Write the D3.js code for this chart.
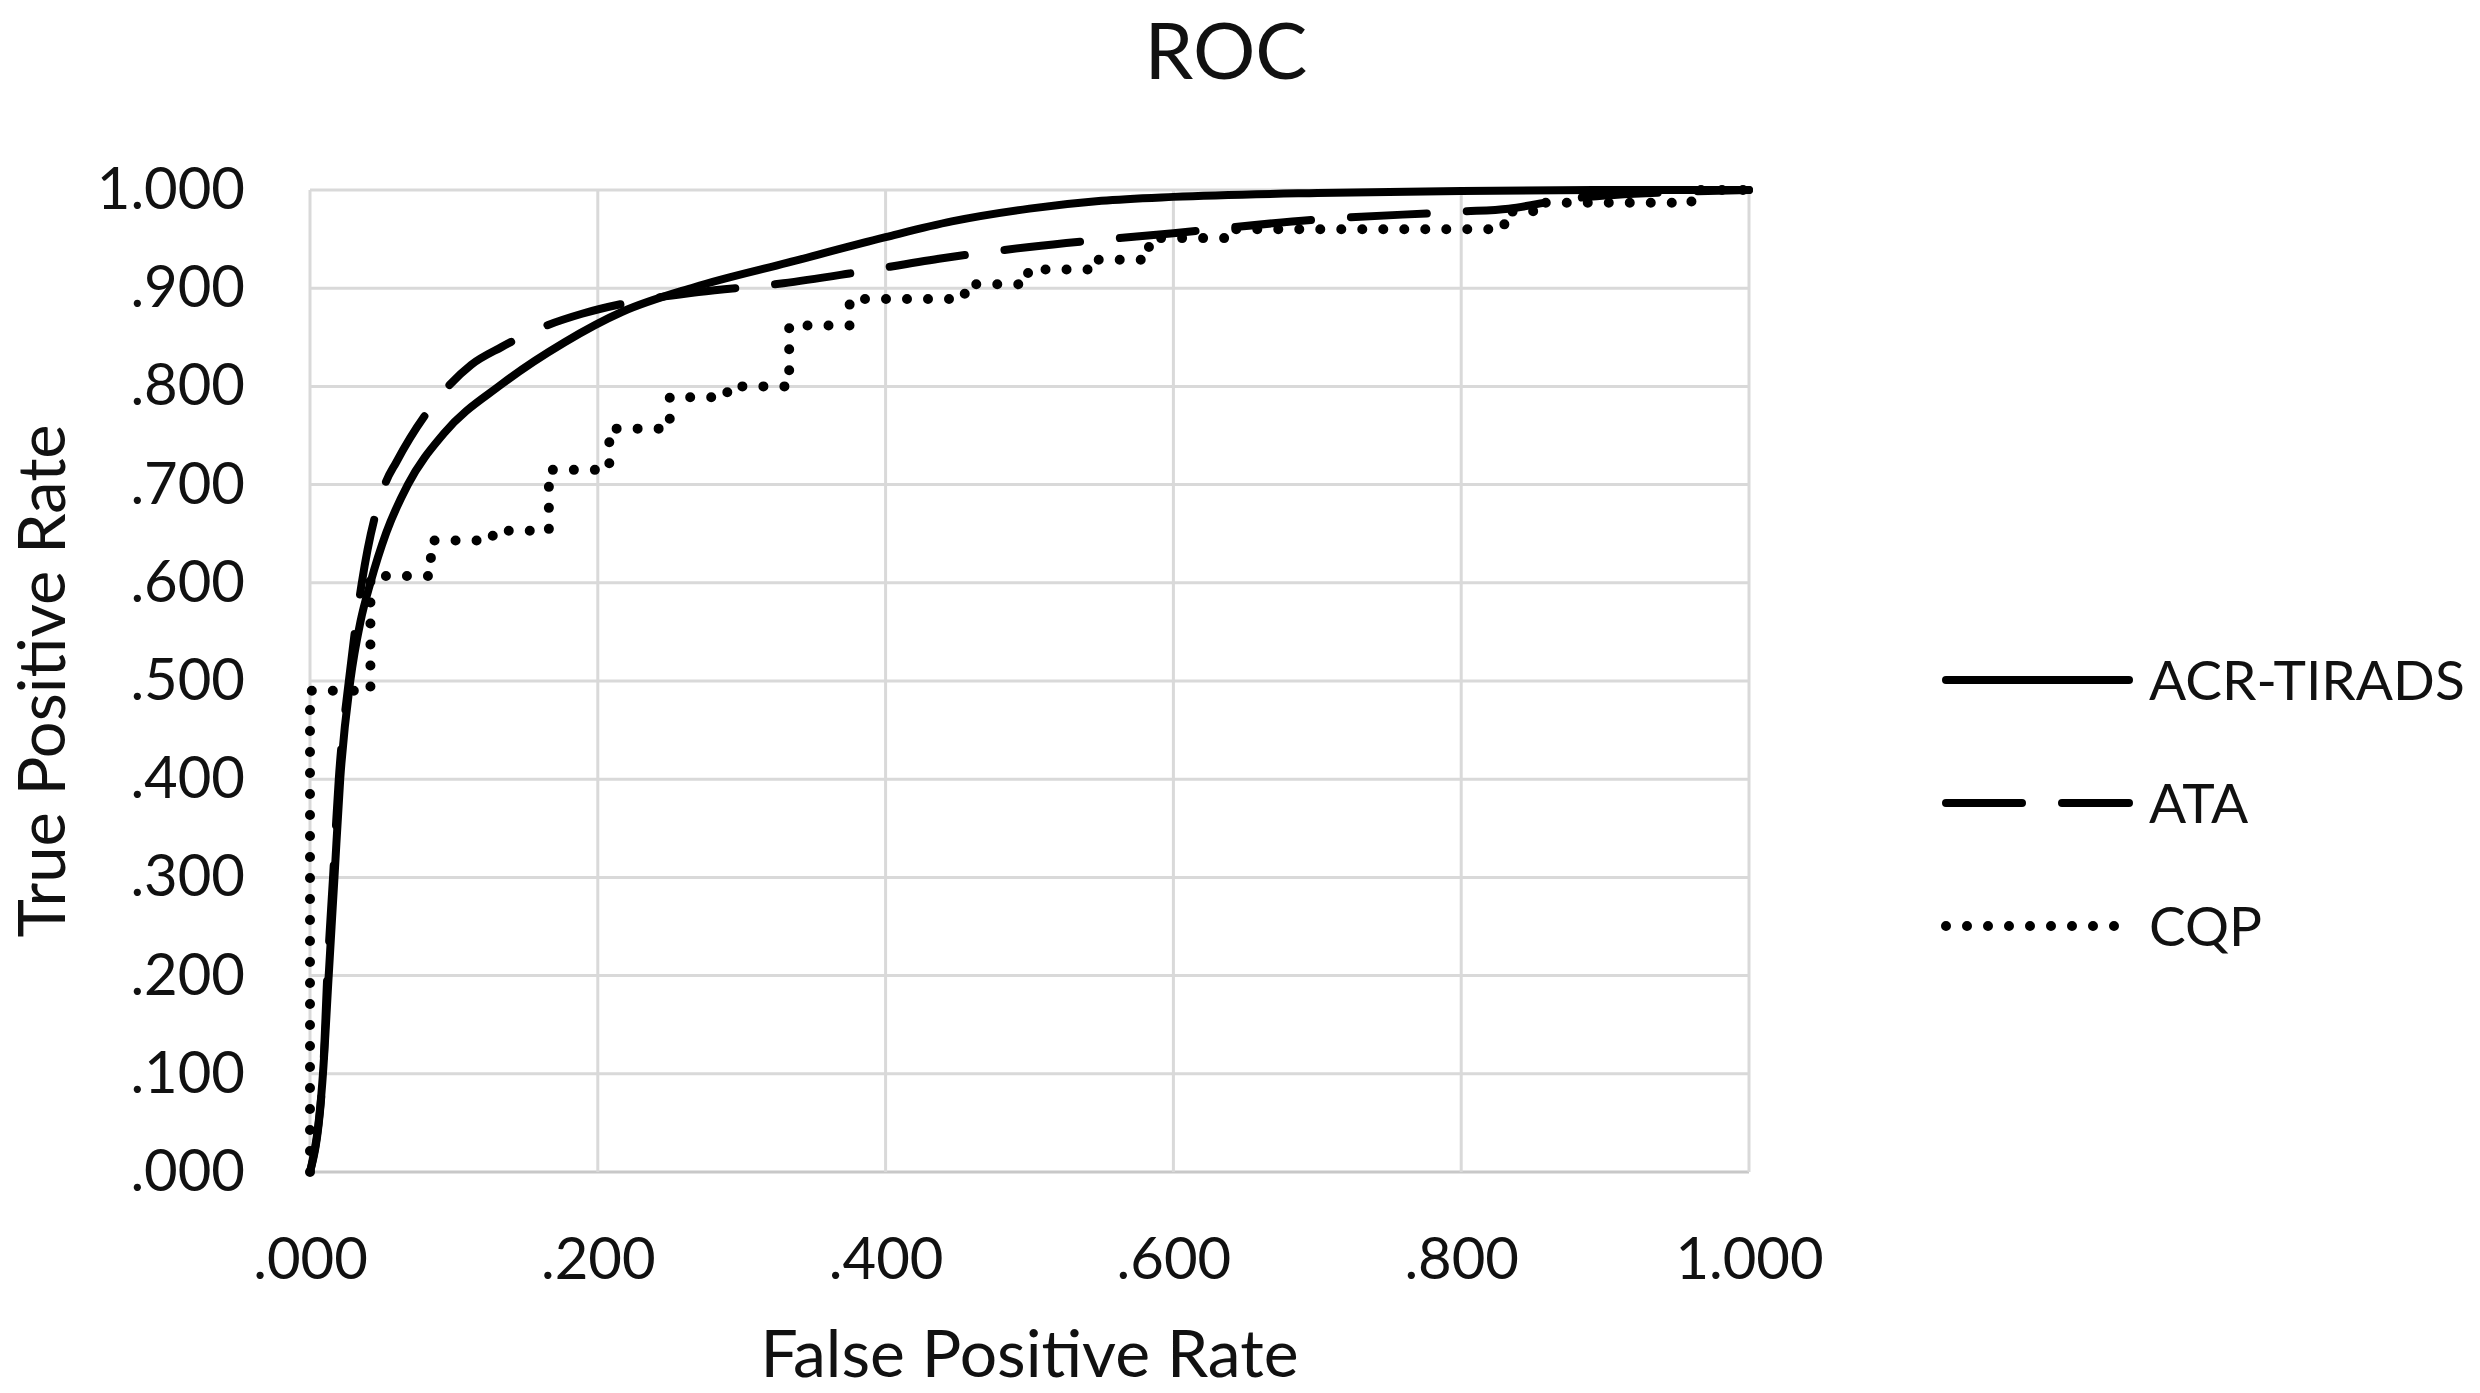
<!DOCTYPE html>
<html lang="en">
<head>
<meta charset="UTF-8">
<title>ROC</title>
<script src="https://d3js.org/d3.v7.min.js"></script>
<style>
  html, body { margin: 0; padding: 0; background: #fff; }
  svg text { font-family: Lato, "Open Sans", sans-serif; fill: #111; }
</style>
</head>
<body>
<svg id="chart" width="2480" height="1393"></svg>
<script>
// ROC curves (false positive rate / true positive rate)
var acrFpr = [0, 0.009, 0.013, 0.017, 0.021, 0.028, 0.035, 0.042, 0.053, 0.068, 0.093, 0.133, 0.177, 0.217, 0.267, 0.332, 0.40, 0.446, 0.5, 0.55, 0.6, 0.7, 0.8, 0.9, 1.0];
var acrTpr = [0, 0.10, 0.20, 0.30, 0.40, 0.50, 0.56, 0.60, 0.651, 0.70, 0.752, 0.802, 0.845, 0.876, 0.901, 0.926, 0.952, 0.968, 0.981, 0.989, 0.993, 0.997, 0.999, 1.0, 1.0];

var ataFpr = [0, 0.009, 0.012, 0.016, 0.020, 0.027, 0.036, 0.052, 0.06, 0.093, 0.112, 0.133, 0.161, 0.189, 0.22, 0.27, 0.329, 0.375, 0.437, 0.5, 0.6, 0.7, 0.8, 0.833, 0.87, 0.95, 1.0];
var ataTpr = [0, 0.10, 0.20, 0.30, 0.40, 0.50, 0.60, 0.70, 0.723, 0.795, 0.822, 0.84, 0.86, 0.874, 0.885, 0.896, 0.905, 0.915, 0.93, 0.942, 0.956, 0.97, 0.978, 0.981, 0.99, 0.998, 1.0];

// CQP is a step curve: each point is where it jumps up to the new rate
var cqpFpr = [0, 0, 0.042, 0.084, 0.127, 0.166, 0.208, 0.25, 0.29, 0.333, 0.375, 0.455, 0.499, 0.545, 0.583, 0.64, 0.83, 0.85, 0.96, 1.0];
var cqpTpr = [0, 0.49, 0.607, 0.643, 0.653, 0.715, 0.757, 0.789, 0.80, 0.862, 0.889, 0.904, 0.919, 0.929, 0.951, 0.96, 0.978, 0.987, 1.0, 1.0];

var xTicks = [0, 0.2, 0.4, 0.6, 0.8, 1.0];
var xTickLabels = [".000", ".200", ".400", ".600", ".800", "1.000"];
var yTicks = [0, 0.1, 0.2, 0.3, 0.4, 0.5, 0.6, 0.7, 0.8, 0.9, 1.0];
var yTickLabels = [".000", ".100", ".200", ".300", ".400", ".500", ".600", ".700", ".800", ".900", "1.000"];

var seriesNames = ["ACR-TIRADS", "ATA", "CQP"];

var svg = d3.select("#chart");

var x = d3.scaleLinear().domain([0, 1]).range([310, 1749]);
var y = d3.scaleLinear().domain([0, 1]).range([1172, 190]);

// gridlines
svg.append("g").selectAll("line").data(yTicks).enter().append("line")
    .attr("x1", x(0)).attr("x2", x(1))
    .attr("y1", function(d) { return y(d); }).attr("y2", function(d) { return y(d); })
    .attr("stroke", function(d) { return d === 0 ? "#c8c8c8" : "#d9d9d9"; })
    .attr("stroke-width", 3);
svg.append("g").selectAll("line").data(xTicks).enter().append("line")
    .attr("y1", y(0)).attr("y2", y(1))
    .attr("x1", function(d) { return x(d); }).attr("x2", function(d) { return x(d); })
    .attr("stroke", "#d9d9d9")
    .attr("stroke-width", 3);

// axes (labels only)
var xAxis = d3.axisBottom(x).tickValues(xTicks).tickSize(0).tickPadding(66)
    .tickFormat(function(d, i) { return xTickLabels[i]; });
var gx = svg.append("g").attr("transform", "translate(0," + y(0) + ")").call(xAxis);
var yAxis = d3.axisLeft(y).tickValues(yTicks).tickSize(0).tickPadding(65)
    .tickFormat(function(d, i) { return yTickLabels[i]; });
var gy = svg.append("g").attr("transform", "translate(" + x(0) + ",0)").call(yAxis);
[gx, gy].forEach(function(g) {
    g.select(".domain").remove();
    g.selectAll("text").attr("font-size", 58).attr("font-family", null).attr("fill", "#111");
});

// lines
var smooth = d3.line().x(function(d) { return x(d[0]); }).y(function(d) { return y(d[1]); })
    .curve(d3.curveMonotoneX);
var steps = d3.line().x(function(d) { return x(d[0]); }).y(function(d) { return y(d[1]); })
    .curve(d3.curveStepAfter);

var styles = {
    "ACR-TIRADS": { dash: null, width: 8 },
    "ATA": { dash: "76,40", width: 8 },
    "CQP": { dash: "0,21", width: 10 }
};

svg.append("path")
    .datum(d3.zip(cqpFpr, cqpTpr))
    .attr("d", steps)
    .attr("fill", "none").attr("stroke", "#000").attr("stroke-width", styles["CQP"].width)
    .attr("stroke-linecap", "round").attr("stroke-dasharray", styles["CQP"].dash);

svg.append("path")
    .datum(d3.zip(ataFpr, ataTpr))
    .attr("d", smooth)
    .attr("fill", "none").attr("stroke", "#000").attr("stroke-width", styles["ATA"].width)
    .attr("stroke-linecap", "round").attr("stroke-dasharray", styles["ATA"].dash);

svg.append("path")
    .datum(d3.zip(acrFpr, acrTpr))
    .attr("d", smooth)
    .attr("fill", "none").attr("stroke", "#000").attr("stroke-width", styles["ACR-TIRADS"].width)
    .attr("stroke-linecap", "round");

// titles
svg.append("text").attr("x", 1226).attr("y", 79).attr("text-anchor", "middle")
    .attr("font-size", 78).text("ROC");
svg.append("text").attr("x", (x(0) + x(1)) / 2).attr("y", 1377).attr("text-anchor", "middle")
    .attr("font-size", 66).text("False Positive Rate");
svg.append("text").attr("transform", "translate(65," + (y(0) + y(1)) / 2 + ") rotate(-90)")
    .attr("text-anchor", "middle").attr("font-size", 65).text("True Positive Rate");

// legend
var legend = svg.append("g").selectAll("g").data(seriesNames).enter().append("g")
    .attr("transform", function(d, i) { return "translate(1941," + (680 + i * 123) + ")"; });
legend.append("line")
    .attr("x1", 5).attr("x2", 188).attr("y1", 0).attr("y2", 0)
    .attr("stroke", "#000")
    .attr("stroke-width", function(d) { return styles[d].width; })
    .attr("stroke-linecap", "round")
    .attr("stroke-dasharray", function(d) { return styles[d].dash; });
legend.append("text").attr("x", 208).attr("y", 0).attr("dy", "0.36em")
    .attr("font-size", 55).text(function(d) { return d; });
</script>
</body>
</html>
